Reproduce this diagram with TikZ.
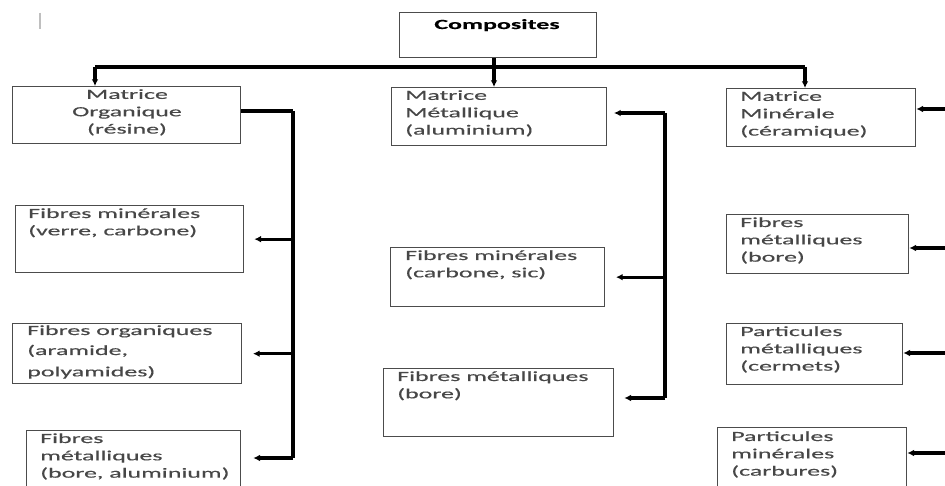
\documentclass[tikz,border=0pt]{standalone}
\usepackage{fontspec}
\setmainfont{Carlito}[FakeStretch=1.85,FakeBold=0.35]
\usetikzlibrary{arrows.meta,calc}
\tikzset{
  box/.style={draw=black!70, line width=1pt, inner sep=0pt, anchor=north west},
  pbox/.style 2 args={box, minimum width=#1*0.75pt, minimum height=#2*0.75pt},
  txt/.style={anchor=north west, inner sep=0pt, align=left, text=black!72,
    font=\fontsize{10.5}{13}\selectfont, execute at begin node=\strut},
  conn/.style={line width=2.5pt},
  barline/.style={line width=3.2pt},
  arr/.style={line width=2.4pt, -{Latex[length=5pt,width=5pt]}},
}
\begin{document}
\begin{tikzpicture}[x=0.75pt,y=-0.75pt]
\useasboundingbox (0,0) rectangle (945,485);
\fill[white] (0,0) rectangle (945,485);
\clip (0,0) rectangle (945,485);
% cursor mark
\draw[black!25, line width=1.2pt] (40,13) -- (40,29);
% top
\node[pbox={197}{45}] (comp) at (399,12) {};
\node[anchor=base, inner sep=0pt, font=\fontsize{10.5}{13}\selectfont\bfseries] (compt) at (497,29) {Composites};
\coordinate (HL) at (95,67);
\coordinate (HR) at (805,67);
\coordinate (HM) at (494,67);
% boxes left
\node[pbox={228}{57}] (b1) at (12,86) {};
\node[txt, align=center, anchor=north] (b1t) at (127,89) {Matrice\\Organique\\(résine)};
\node[pbox={228}{67}] (b2) at (15,205) {};
\node[txt] (b2t) at (28,208) {Fibres minérales\\(verre, carbone)};
\node[pbox={229}{60}] (b3) at (12,323) {};
\node[txt] (b3t) at (27,325) {Fibres organiques\\[2pt](aramide,\\[3pt]polyamides)};
\node[pbox={214}{64}] (b4) at (26,430) {};
\node[txt] (b4t) at (40,433) {Fibres\\métalliques\\(bore, aluminium)};
% boxes middle
\node[pbox={215}{58}] (mm) at (391,87) {};
\node[txt] (mmt) at (405,90) {Matrice\\Métallique\\(aluminium)};
\node[pbox={214}{59}] (mc2) at (390,247) {};
\node[txt] (mc2t) at (405,250) {Fibres minérales\\(carbone, sic)};
\node[pbox={230}{68}] (mc3) at (383,368) {};
\node[txt] (mc3t) at (397,371) {Fibres métalliques\\(bore)};
% boxes right
\node[pbox={189}{58}] (rm) at (726,88) {};
\node[txt] (rmt) at (740,91) {Matrice\\Minérale\\(céramique)};
\node[pbox={182}{59}] (rf) at (726,214) {};
\node[txt] (rft) at (740,217) {Fibres\\métalliques\\(bore)};
\node[pbox={176}{61}] (rpm) at (726,323) {};
\node[txt] (rpmt) at (740,326) {Particules\\métalliques\\(cermets)};
\node[pbox={189}{63}] (rpn) at (717,427) {};
\node[txt] (rpnt) at (731,431) {Particules\\minérales\\(carbures)};
% top connectors
\draw[conn] (comp.south -| HM) -- (HM);
\draw[conn] (HL) -- (HR);
\draw[arr] (HL) -- (HL |- b1.north);
\draw[arr] (HM) -- (HM |- mm.north);
\draw[arr] (HR) -- (HR |- rm.north);
% left column
\coordinate (Lt) at (293,111);
\coordinate (Lb) at (293,458);
\draw[barline] (Lt) -- (Lb);
\draw[conn] (b1.east |- Lt) -- (Lt);
\draw[arr, shorten >=7.5pt] (Lt |- b2.east) -- (b2.east);
\draw[arr, shorten >=8pt] (Lt |- b3.east) -- (b3.east);
\draw[arr, shorten >=9pt] (Lb) -- (Lb -| b4.east);
% middle column
\coordinate (Mt) at (665,113);
\coordinate (Mb) at (665,398);
\draw[barline] (Mt) -- (Mb);
\draw[arr, shorten >=5pt] (Mt) -- (Mt -| mm.east);
\draw[arr, shorten >=8pt] (Mt |- mc2.east) -- (mc2.east);
\draw[arr, shorten >=7.5pt] (Mb) -- (Mb -| mc3.east);
% right column
\coordinate (R1) at (945,109);
\coordinate (R2) at (945,248);
\coordinate (R3) at (945,353);
\coordinate (R4) at (945,453);
\draw[arr] (R1) -- (R1 -| rm.east);
\draw[arr] (R2) -- (R2 -| rf.east);
\draw[arr] (R3) -- (R3 -| rpm.east);
\draw[arr] (R4) -- (R4 -| rpn.east);
\end{tikzpicture}
\end{document}
